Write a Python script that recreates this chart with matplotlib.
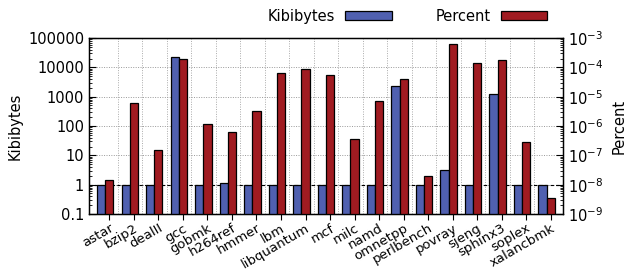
import matplotlib
matplotlib.use("Agg")
import matplotlib.pyplot as plt
from matplotlib.patches import Patch
import numpy as np

benchmarks = ["astar", "bzip2", "dealII", "gcc", "gobmk", "h264ref", "hmmer",
              "lbm", "libquantum", "mcf", "milc", "namd", "omnetpp",
              "perlbench", "povray", "sjeng", "sphinx3", "soplex", "xalancbmk"]
kibibytes = [1, 1, 1, 22000, 1, 1.15, 1, 1, 1, 1, 1, 1, 2400, 1, 3.2, 1, 1260, 1, 1]
percent = [1.5e-8, 6.2e-6, 1.5e-7, 1.9e-4, 1.15e-6, 6.4e-7, 3.2e-6, 6.3e-5,
           8.6e-5, 5.3e-5, 3.5e-7, 6.9e-6, 4.0e-5, 2.0e-8, 6.3e-4, 1.4e-4,
           1.74e-4, 2.8e-7, 3.4e-9]

blue = "#5060b0"
red = "#a01b21"

plt.rcParams['font.family'] = ['DejaVu Sans']
plt.rcParams['font.size'] = 10.5

fig = plt.figure(figsize=(6.35, 2.73), dpi=100)
ax = fig.add_axes([89/635, 1 - 214/273, (563 - 89)/635, (214 - 38)/273])
ax2 = ax.twinx()

x = np.arange(len(benchmarks))
w = 1/3

ax.set_yscale("log")
ax.set_ylim(0.1, 100000)
ax2.set_yscale("log")
ax2.set_ylim(1e-9, 1e-3)
ax.set_xlim(-0.83, 18.5)

ax.bar(x - w, np.array(kibibytes) - 0.1, width=w, bottom=0.1, color=blue,
       edgecolor="black", linewidth=0.9, zorder=3)
ax2.bar(x, np.array(percent) - 1e-9, width=w, bottom=1e-9, color=red,
        edgecolor="black", linewidth=0.9, zorder=3)

# grid
ax.set_xticks(x)
ax.set_xticks(x[:-1] + w, minor=True)
ax.set_xticklabels(benchmarks, rotation=30, ha="right", rotation_mode="anchor",
                   fontsize=9.5)
ax.grid(True, which="minor", axis="x", color="#aaaaaa", linestyle=(0, (1, 1.5)), linewidth=0.7, zorder=0)
ax.grid(True, which="major", axis="y", color="#999999", linestyle=(0, (1, 1.5)), linewidth=0.7, zorder=0)
ax.axhline(1, color="black", linestyle=(0, (3, 2)), linewidth=0.8, zorder=1)
ax.set_axisbelow(True)

ax.tick_params(axis="x", which="major", direction="out", length=4, pad=1.5, top=False)
ax.tick_params(axis="x", which="minor", length=0)
ax.tick_params(axis="y", which="major", direction="in", length=5, right=False)
ax.tick_params(axis="y", which="minor", direction="in", length=2.5, right=False)
ax2.tick_params(axis="y", which="major", direction="in", length=5)
ax2.tick_params(axis="y", which="minor", direction="in", length=2.5)

ax.set_yticks([0.1, 1, 10, 100, 1000, 10000, 100000])
ax.set_yticklabels(["0.1", "1", "10", "100", "1000", "10000", "100000"])
ax2.set_yticks([1e-9, 1e-8, 1e-7, 1e-6, 1e-5, 1e-4, 1e-3])

ax.set_ylabel("Kibibytes", labelpad=4)
ax2.set_ylabel("Percent", labelpad=6)

for s in ax.spines.values():
    s.set_linewidth(1.0)

handles = [Patch(facecolor=blue, edgecolor="black", linewidth=0.9),
           Patch(facecolor=red, edgecolor="black", linewidth=0.9)]
fig.legend(handles, ["Kibibytes", "Percent"], loc="upper right",
           bbox_to_anchor=(556/635, 1.0), ncol=2, markerfirst=False,
           frameon=False, handlelength=3.2, handleheight=0.55,
           handletextpad=0.7, columnspacing=3.0, borderaxespad=0.2)

fig.savefig("out.png", dpi=100)
